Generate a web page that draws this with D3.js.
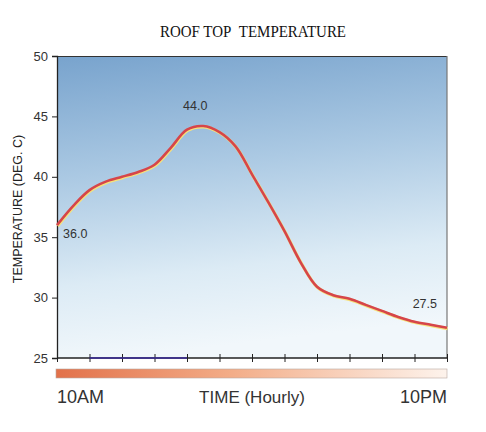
<!DOCTYPE html>
<html>
<head>
<meta charset="utf-8">
<script src="https://cdn.jsdelivr.net/npm/d3@7"></script>
<style>
  body { margin: 0; background: #fff; }
  svg text { font-family: Arial, "Liberation Sans", sans-serif; }
</style>
</head>
<body>
<svg id="chart" width="486" height="432"></svg>
<script>
// readings taken every half hour, 10AM (0) .. 10PM (12)
var hours = [0, 0.5, 1, 1.5, 2, 2.5, 3, 3.5, 4, 4.5, 5, 5.5, 6, 6.5, 7, 7.5, 8, 8.5, 9, 9.5, 10, 10.5, 11, 11.5, 12];
var temps = [36.0, 37.6, 38.9, 39.6, 40.0, 40.4, 41.0, 42.4, 43.9, 44.2, 43.7, 42.5, 40.2, 37.9, 35.5, 32.9, 30.9, 30.2, 29.9, 29.4, 28.9, 28.4, 28.0, 27.75, 27.5];
var yTicks = [25, 30, 35, 40, 45, 50];
var hourTicks = [0, 1, 2, 3, 4, 5, 6, 7, 8, 9, 10, 11, 12];
// value labels: [hour, temp, text]
var callouts = [[0, 36.0, "36.0"], [4.5, 44.2, "44.0"], [12, 27.5, "27.5"]];

var svg = d3.select("#chart");
var margin = {top: 56, right: 39, bottom: 75, left: 57};
var width = 486 - margin.left - margin.right;
var height = 432 - margin.top - margin.bottom;

var defs = svg.append("defs");
var sky = defs.append("linearGradient").attr("id", "sky")
    .attr("x1", "0").attr("y1", "0").attr("x2", "0.15").attr("y2", "1");
sky.append("stop").attr("offset", "0%").attr("stop-color", "#78a3cd");
sky.append("stop").attr("offset", "40%").attr("stop-color", "#abc9e3");
sky.append("stop").attr("offset", "75%").attr("stop-color", "#dcebf5");
sky.append("stop").attr("offset", "100%").attr("stop-color", "#f1f7fb");

var warm = defs.append("linearGradient").attr("id", "warm");
warm.append("stop").attr("offset", "0%").attr("stop-color", "#e2714a");
warm.append("stop").attr("offset", "45%").attr("stop-color", "#f3ad88");
warm.append("stop").attr("offset", "100%").attr("stop-color", "#fdf3ec");

var g = svg.append("g")
    .attr("transform", "translate(" + margin.left + "," + margin.top + ")");

var x = d3.scaleLinear().domain([0, 12]).range([0, width]);
var y = d3.scaleLinear().domain([25, 50]).range([height + 1, 0]);

g.append("rect")
    .attr("width", width).attr("height", height + 1)
    .attr("fill", "url(#sky)");

// frame: dark top, grey right
g.append("line").attr("x1", 0).attr("x2", width).attr("y1", 0.5).attr("y2", 0.5)
    .attr("stroke", "#333").attr("stroke-width", 1.2);
g.append("line").attr("x1", width).attr("x2", width).attr("y1", 0).attr("y2", height + 1)
    .attr("stroke", "#777").attr("stroke-width", 1.2);

// y axis
var yAxis = g.append("g")
    .call(d3.axisLeft(y).tickValues(yTicks).tickSize(5).tickPadding(4));
yAxis.select(".domain").attr("stroke", "#222").attr("stroke-width", 1.3);
yAxis.selectAll(".tick line").attr("stroke", "#222");
yAxis.selectAll(".tick text").attr("font-size", "13px").attr("fill", "#333");

// x axis, ticks crossing the line
var xAxis = g.append("g")
    .attr("transform", "translate(0," + y(25) + ")")
    .call(d3.axisBottom(x).tickValues(hourTicks).tickSize(4).tickFormat(""));
xAxis.select(".domain").remove();
xAxis.selectAll(".tick line").attr("y1", -4).attr("stroke", "#222");
g.append("line")
    .attr("x1", 0).attr("x2", width).attr("y1", y(25)).attr("y2", y(25))
    .attr("stroke", "#222").attr("stroke-width", 1.3);
g.append("line")
    .attr("x1", x(1)).attr("x2", x(4)).attr("y1", y(25)).attr("y2", y(25))
    .attr("stroke", "#3a2a9a").attr("stroke-width", 1.3);

// orange time bar
g.append("rect")
    .attr("x", -1).attr("y", y(25) + 11)
    .attr("width", width + 1).attr("height", 9)
    .attr("fill", "url(#warm)")
    .attr("stroke", "#b8a8a0").attr("stroke-width", 0.6);

// the curve
var line = d3.line()
    .x(function(d, i) { return x(hours[i]); })
    .y(function(d) { return y(d); })
    .curve(d3.curveCatmullRom.alpha(0.5));

g.append("path")
    .datum(temps)
    .attr("d", line)
    .attr("fill", "none")
    .attr("stroke", "#f6e27a")
    .attr("stroke-width", 3.2)
    .attr("transform", "translate(0.6,0.8)");
g.append("path")
    .datum(temps)
    .attr("d", line)
    .attr("fill", "none")
    .attr("stroke", "#d6454a")
    .attr("stroke-width", 2.6);

// value labels
g.selectAll(".callout")
    .data(callouts)
    .enter().append("text")
    .attr("class", "callout")
    .attr("x", function(d, i) { return x(d[0]) + [6, -8, -10][i]; })
    .attr("y", function(d, i) { return y(d[1]) + [13, -16, -20][i]; })
    .attr("text-anchor", function(d, i) { return ["start", "middle", "end"][i]; })
    .attr("font-size", "12.5px")
    .attr("fill", "#333")
    .text(function(d) { return d[2]; });

// bottom labels
var labelY = y(25) + 45;
g.append("text").attr("x", 0).attr("y", labelY)
    .attr("font-size", "18px").attr("fill", "#333").text("10AM");
g.append("text").attr("x", x(6)).attr("y", labelY)
    .attr("text-anchor", "middle")
    .attr("font-size", "17px").attr("fill", "#333").text("TIME (Hourly)");
g.append("text").attr("x", width).attr("y", labelY)
    .attr("text-anchor", "end")
    .attr("font-size", "18px").attr("fill", "#333").text("10PM");

// y title
svg.append("text")
    .attr("transform", "translate(22,209) rotate(-90)")
    .attr("text-anchor", "middle")
    .attr("font-size", "12.5px").attr("fill", "#222")
    .text("TEMPERATURE (DEG. C)");

// title
svg.append("text")
    .attr("x", 160).attr("y", 37)
    .attr("textLength", 186).attr("lengthAdjust", "spacingAndGlyphs")
    .style("font-family", "'Liberation Serif', 'Times New Roman', serif")
    .attr("font-size", "17px").attr("fill", "#111")
    .text("ROOF TOP\u00a0\u00a0TEMPERATURE");
</script>
</body>
</html>
